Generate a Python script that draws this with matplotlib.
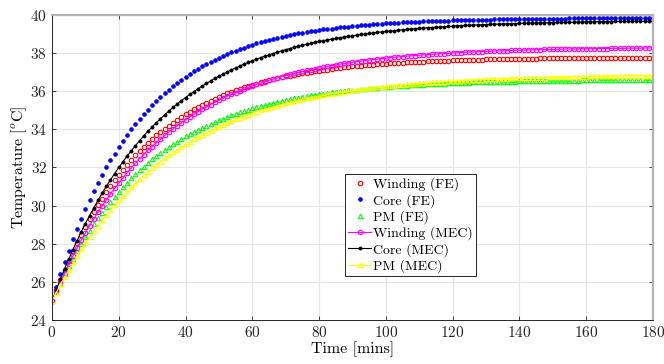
import matplotlib
matplotlib.use('Agg')
import matplotlib.pyplot as plt
import numpy as np

# time axis, samples every 1.25 min
time_step = 1.25
n_samples = 145

winding_fe = [25.00,25.57,26.11,26.63,27.12,27.60,28.05,28.48,28.90,29.29,29.67,30.03,30.37,30.70,31.02,31.32,31.60,31.88,32.14,32.39,32.63,
              32.86,33.08,33.29,33.49,33.68,33.86,34.03,34.20,34.36,34.51,34.66,34.80,34.93,35.06,35.18,35.29,35.40,35.51,35.61,35.71,
              35.80,35.89,35.97,36.05,36.13,36.20,36.27,36.34,36.40,36.46,36.52,36.58,36.63,36.68,36.73,36.78,36.82,36.86,36.91,36.94,
              36.98,37.02,37.05,37.08,37.11,37.14,37.17,37.20,37.22,37.25,37.27,37.30,37.32,37.34,37.36,37.38,37.39,37.41,37.43,37.44,
              37.46,37.47,37.49,37.50,37.51,37.52,37.53,37.55,37.56,37.57,37.58,37.58,37.59,37.60,37.61,37.62,37.62,37.63,37.64,37.64,
              37.65,37.66,37.66,37.67,37.67,37.68,37.68,37.69,37.69,37.69,37.70,37.70,37.70,37.71,37.71,37.71,37.72,37.72,37.72,37.72,
              37.73,37.73,37.73,37.73,37.74,37.74,37.74,37.74,37.74,37.74,37.75,37.75,37.75,37.75,37.75,37.75,37.75,37.76,37.76,37.76,
              37.76,37.76,37.76,37.76]

core_fe = [25.00,25.71,26.39,27.03,27.64,28.23,28.78,29.31,29.82,30.30,30.75,31.19,31.60,32.00,32.37,32.73,33.07,33.40,33.70,34.00,34.28,
           34.55,34.80,35.04,35.27,35.49,35.70,35.90,36.09,36.27,36.44,36.60,36.76,36.90,37.05,37.18,37.31,37.43,37.54,37.65,37.76,37.86,
           37.96,38.05,38.13,38.21,38.29,38.37,38.44,38.51,38.57,38.63,38.69,38.74,38.80,38.85,38.90,38.94,38.98,39.03,39.07,39.10,39.14,
           39.17,39.21,39.24,39.27,39.29,39.32,39.35,39.37,39.39,39.41,39.44,39.46,39.47,39.49,39.51,39.53,39.54,39.56,39.57,39.58,39.60,
           39.61,39.62,39.63,39.64,39.65,39.66,39.67,39.68,39.69,39.69,39.70,39.71,39.72,39.72,39.73,39.73,39.74,39.75,39.75,39.75,39.76,
           39.76,39.77,39.77,39.78,39.78,39.78,39.79,39.79,39.79,39.79,39.80,39.80,39.80,39.80,39.81,39.81,39.81,39.81,39.81,39.82,39.82,
           39.82,39.82,39.82,39.82,39.82,39.83,39.83,39.83,39.83,39.83,39.83,39.83,39.83,39.83,39.83,39.84,39.84,39.84,39.84]

pm_fe = [25.00,25.48,25.94,26.39,26.81,27.22,27.61,27.98,28.34,28.68,29.01,29.33,29.63,29.92,30.20,30.47,30.72,30.97,31.20,31.43,31.64,
         31.85,32.05,32.24,32.42,32.59,32.76,32.92,33.07,33.22,33.36,33.50,33.63,33.75,33.87,33.98,34.09,34.20,34.30,34.39,34.49,34.57,
         34.66,34.74,34.82,34.89,34.97,35.03,35.10,35.16,35.22,35.28,35.34,35.39,35.44,35.49,35.54,35.58,35.62,35.67,35.71,35.74,35.78,
         35.81,35.85,35.88,35.91,35.94,35.97,36.00,36.02,36.05,36.07,36.09,36.11,36.14,36.16,36.18,36.19,36.21,36.23,36.24,36.26,36.28,
         36.29,36.30,36.32,36.33,36.34,36.35,36.36,36.37,36.38,36.39,36.40,36.41,36.42,36.43,36.44,36.44,36.45,36.46,36.47,36.47,36.48,
         36.48,36.49,36.50,36.50,36.51,36.51,36.51,36.52,36.52,36.53,36.53,36.53,36.54,36.54,36.54,36.55,36.55,36.55,36.56,36.56,36.56,
         36.56,36.57,36.57,36.57,36.57,36.57,36.58,36.58,36.58,36.58,36.58,36.58,36.59,36.59,36.59,36.59,36.59,36.59,36.59]

winding_mec = [25.00,25.51,26.00,26.47,26.93,27.36,27.78,28.19,28.57,28.95,29.31,29.65,29.98,30.30,30.61,30.91,31.19,31.46,31.73,31.98,32.22,
               32.46,32.68,32.90,33.10,33.30,33.50,33.68,33.86,34.03,34.19,34.35,34.50,34.65,34.79,34.93,35.06,35.18,35.30,35.42,35.53,35.63,
               35.74,35.84,35.93,36.02,36.11,36.20,36.28,36.36,36.43,36.50,36.57,36.64,36.70,36.77,36.83,36.88,36.94,36.99,37.04,37.09,37.14,
               37.18,37.23,37.27,37.31,37.35,37.38,37.42,37.46,37.49,37.52,37.55,37.58,37.61,37.64,37.66,37.69,37.71,37.73,37.76,37.78,37.80,
               37.82,37.84,37.86,37.87,37.89,37.91,37.92,37.94,37.95,37.97,37.98,37.99,38.01,38.02,38.03,38.04,38.05,38.06,38.07,38.08,38.09,
               38.10,38.11,38.11,38.12,38.13,38.14,38.15,38.15,38.16,38.17,38.17,38.18,38.18,38.19,38.19,38.20,38.20,38.21,38.21,38.22,38.22,
               38.22,38.23,38.23,38.23,38.24,38.24,38.24,38.24,38.25,38.25,38.25,38.25,38.26,38.26,38.26,38.26,38.27,38.27,38.27]

core_mec = [25.00,25.58,26.14,26.68,27.19,27.69,28.16,28.62,29.06,29.48,29.88,30.27,30.65,31.01,31.35,31.68,32.00,32.30,32.60,32.88,33.15,
            33.41,33.66,33.90,34.13,34.35,34.56,34.76,34.96,35.15,35.33,35.50,35.67,35.83,35.98,36.13,36.27,36.41,36.54,36.67,36.79,36.90,
            37.01,37.12,37.22,37.32,37.42,37.51,37.60,37.68,37.76,37.84,37.91,37.98,38.05,38.12,38.18,38.24,38.30,38.36,38.41,38.46,38.51,
            38.56,38.61,38.65,38.69,38.73,38.77,38.81,38.84,38.88,38.91,38.94,38.98,39.00,39.03,39.06,39.09,39.11,39.14,39.16,39.18,39.20,
            39.22,39.24,39.26,39.28,39.30,39.31,39.33,39.34,39.36,39.37,39.39,39.40,39.41,39.43,39.44,39.45,39.46,39.47,39.48,39.49,39.50,
            39.51,39.52,39.52,39.53,39.54,39.55,39.55,39.56,39.57,39.57,39.58,39.58,39.59,39.59,39.60,39.60,39.61,39.61,39.62,39.62,39.62,
            39.63,39.63,39.64,39.64,39.64,39.65,39.65,39.65,39.65,39.66,39.66,39.66,39.66,39.66,39.67,39.67,39.67,39.67,39.68]

pm_mec = [25.00,25.43,25.84,26.24,26.62,26.99,27.35,27.70,28.03,28.35,28.65,28.95,29.24,29.51,29.78,30.04,30.28,30.52,30.75,30.97,31.19,
          31.39,31.59,31.78,31.96,32.14,32.31,32.48,32.64,32.79,32.94,33.08,33.22,33.35,33.48,33.60,33.72,33.83,33.94,34.05,34.15,34.25,
          34.34,34.44,34.52,34.61,34.69,34.77,34.85,34.92,34.99,35.06,35.12,35.19,35.25,35.31,35.36,35.42,35.47,35.52,35.57,35.62,35.66,
          35.71,35.75,35.79,35.83,35.87,35.90,35.94,35.97,36.01,36.04,36.07,36.10,36.13,36.15,36.18,36.20,36.23,36.25,36.28,36.30,36.32,
          36.34,36.36,36.38,36.40,36.41,36.43,36.45,36.46,36.48,36.49,36.51,36.52,36.53,36.54,36.56,36.57,36.58,36.59,36.60,36.61,36.62,
          36.63,36.64,36.65,36.66,36.66,36.67,36.68,36.69,36.69,36.70,36.71,36.71,36.72,36.72,36.73,36.74,36.74,36.75,36.75,36.76,36.76,
          36.76,36.77,36.77,36.78,36.78,36.78,36.79,36.79,36.79,36.80,36.80,36.80,36.81,36.81,36.81,36.81,36.82,36.82,36.82]

t = np.arange(n_samples) * time_step

plt.rcParams['font.family'] = 'serif'
plt.rcParams['font.serif'] = ['cmr10']
plt.rcParams['mathtext.fontset'] = 'cm'
plt.rcParams['axes.formatter.use_mathtext'] = True

fig = plt.figure(figsize=(6.64, 3.64), dpi=100)
ax = fig.add_axes([0.0783, 0.1209, 0.905, 0.8379])

# FE results: markers only
ax.plot(t, winding_fe, 'o', color='#ff0000', mfc='none', ms=3.2, mew=0.8, label='Winding (FE)')
ax.plot(t, core_fe, 'o', color='#0000ff', ms=2.7, mew=0.5, label='Core (FE)')
ax.plot(t, pm_fe, '^', color='#00ff00', mfc='none', ms=3.2, mew=0.8, label='PM (FE)')
# MEC results: line + markers
ax.plot(t, winding_mec, '-o', color='#ff00ff', mfc='none', ms=3.2, mew=0.8, lw=0.8, label='Winding (MEC)')
ax.plot(t, core_mec, '-o', color='black', ms=2.3, mew=0.5, lw=0.8, label='Core (MEC)')
ax.plot(t, pm_mec, '-^', color='#ffff00', mfc='none', ms=3.2, mew=0.8, lw=0.8, label='PM (MEC)')

ax.set_xlim(0, 180)
ax.set_ylim(24, 40)
ax.set_xticks(range(0, 181, 20))
ax.set_yticks(range(24, 41, 2))
ax.grid(True, color='#e6e6e6', lw=0.8)
ax.set_axisbelow(True)
ax.tick_params(direction='in', length=3, width=0.6, colors='#262626', labelsize=11,
               top=True, right=True)
for side in ['left', 'bottom']:
    ax.spines[side].set_color('#262626')
    ax.spines[side].set_linewidth(0.7)
for side in ['top', 'right']:
    ax.spines[side].set_color('#b3b3b3')
    ax.spines[side].set_linewidth(1.6)

ax.set_xlabel('Time [mins]', fontsize=11.5, labelpad=1)
ax.set_ylabel('Temperature [$^o$C]', fontsize=11.5, labelpad=1)

leg = ax.legend(loc='upper left', bbox_to_anchor=(0.4875, 0.478), fontsize=10,
                fancybox=False, framealpha=1, edgecolor='#262626', borderpad=0.25,
                handlelength=1.6, handletextpad=0.15, labelspacing=0.18, borderaxespad=0)
leg.get_frame().set_linewidth(0.7)

fig.savefig('out.png', dpi=100)
